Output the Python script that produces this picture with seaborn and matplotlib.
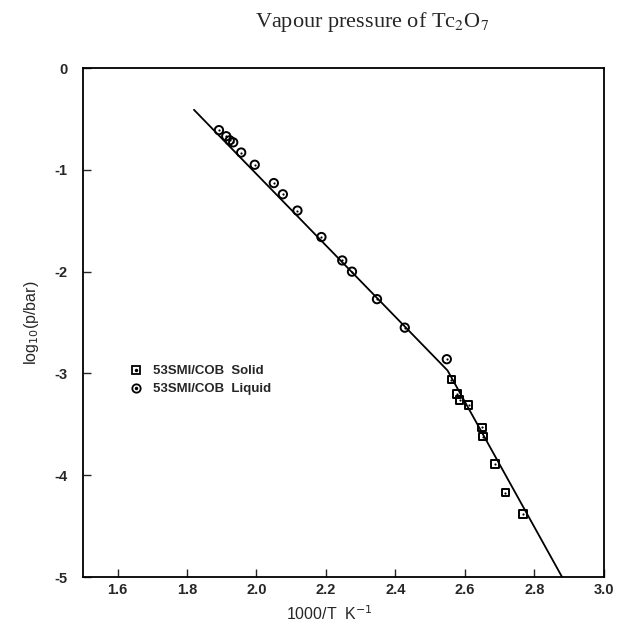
import matplotlib
matplotlib.use("Agg")
import matplotlib.pyplot as plt
from matplotlib.lines import Line2D
import seaborn as sns
import pandas as pd

# ---- data ----
liquid_x = [1.892, 1.913, 1.923, 1.933, 1.956, 1.995, 2.050, 2.076, 2.118, 2.187,
            2.247, 2.275, 2.347, 2.427, 2.548]
liquid_y = [-0.61, -0.67, -0.71, -0.73, -0.83, -0.95, -1.13, -1.24, -1.40, -1.66,
            -1.89, -2.00, -2.27, -2.55, -2.86]
solid_x = [2.561, 2.578, 2.585, 2.611, 2.649, 2.653, 2.686, 2.717, 2.767]
solid_y = [-3.06, -3.20, -3.26, -3.31, -3.53, -3.62, -3.89, -4.17, -4.38]
fit_x = [1.82, 2.55, 2.88]
fit_y = [-0.41, -2.97, -5.0]
x_ticks = [1.6, 1.8, 2.0, 2.2, 2.4, 2.6, 2.8, 3.0]
y_ticks = [0, -1, -2, -3, -4, -5]

liq = pd.DataFrame({"x": liquid_x, "y": liquid_y})
sol = pd.DataFrame({"x": solid_x, "y": solid_y})
fit = pd.DataFrame({"x": fit_x, "y": fit_y})

sns.set_style("ticks")
plt.rcParams['font.family'] = ['Liberation Sans', 'DejaVu Sans']

fig = plt.figure(figsize=(6.18, 6.30), dpi=100)
ax = fig.add_axes([0.134, 0.084, 0.843, 0.808])

sns.lineplot(data=fit, x="x", y="y", ax=ax, color="black", lw=1.3, sort=False)
sns.scatterplot(data=liq, x="x", y="y", ax=ax, marker="o", s=36,
                facecolor="none", edgecolor="black", linewidth=1.4, zorder=3)
sns.scatterplot(data=sol, x="x", y="y", ax=ax, marker="s", s=30,
                facecolor="none", edgecolor="black", linewidth=1.4, zorder=3)
sns.scatterplot(data=pd.concat([liq, sol]), x="x", y="y", ax=ax, marker="o", s=2.5,
                color="black", linewidth=0, zorder=4)

ax.set_xlim(1.5, 3.0)
ax.set_ylim(-5, 0)
ax.set_xticks(x_ticks)
ax.set_xticklabels([f"{t:.1f}" for t in x_ticks], fontweight="bold", fontsize=10.5)
ax.set_yticks(y_ticks)
ax.set_yticklabels([str(t) for t in y_ticks], fontweight="bold", fontsize=10.5)
ax.tick_params(direction="in", length=6, width=1, top=False, right=False)
ax.tick_params(axis="x", pad=4)
ax.tick_params(axis="y", pad=11)
for s in ax.spines.values():
    s.set_linewidth(1.3)
    s.set_color("black")

ax.set_xlabel(r"1000/T  K$^{-1}$", fontsize=11.5)
ax.xaxis.set_label_coords(0.474, -0.053)
ax.set_ylabel(r"log$_{10}$(p/bar)", fontsize=11.5)
ax.yaxis.set_label_coords(-0.081, 0.5)

fig.text(0.602, 0.965, r"Vapour pressure of Tc$_2$O$_7$", ha="center", va="center",
         fontsize=16, family="Liberation Serif", math_fontfamily="stix")

h_s = (Line2D([], [], marker="s", ls="none", mfc="none", mec="black", ms=5.5, mew=1.3),
       Line2D([], [], marker="o", ls="none", color="black", ms=1.5))
h_l = (Line2D([], [], marker="o", ls="none", mfc="none", mec="black", ms=6, mew=1.3),
       Line2D([], [], marker="o", ls="none", color="black", ms=1.5))
leg = ax.legend([h_s, h_l], ["53SMI/COB  Solid", "53SMI/COB  Liquid"],
                loc="upper left", bbox_to_anchor=(0.090, 0.4165), frameon=False,
                borderpad=0, borderaxespad=0,
                handlelength=1.0, handletextpad=0.76, labelspacing=0.45,
                prop={"weight": "bold", "size": 9.5})

fig.savefig("out.png", dpi=100)
